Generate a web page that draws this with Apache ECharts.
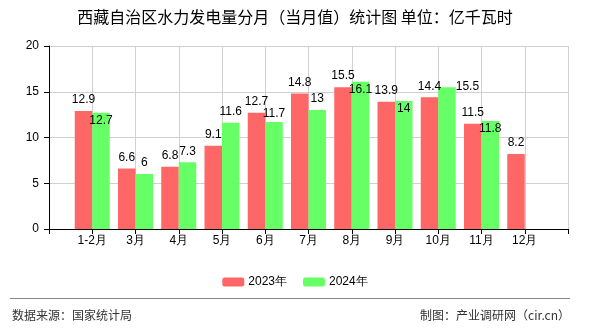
<!DOCTYPE html>
<html>
<head>
<meta charset="utf-8">
<script src="https://cdn.jsdelivr.net/npm/echarts@6/dist/echarts.min.js"></script>
<style>
html,body{margin:0;padding:0;background:#fff;}
#chart{width:590px;height:330px;}
</style>
</head>
<body>
<div id="chart"></div>
<script>
var categories = ['1-2月','3月','4月','5月','6月','7月','8月','9月','10月','11月','12月'];
var values2023 = [12.9, 6.6, 6.8, 9.1, 12.7, 14.8, 15.5, 13.9, 14.4, 11.5, 8.2];
var values2024 = [12.7, 6, 7.3, 11.6, 11.7, 13, 16.1, 14, 15.5, 11.8];
var seriesNames = ['2023年', '2024年'];
var yTicks = [0, 5, 10, 15, 20];

var LABEL_FONT = 'Liberation Sans, Arial, sans-serif';
var CJK_FONT = '"Noto Sans CJK SC", "Liberation Sans", sans-serif';

function pad(arr) {
  var out = ['-'];
  for (var i = 0; i < categories.length; i++) {
    out.push(i < arr.length ? arr[i] : '-');
  }
  out.push('-');
  return out;
}
var axisData = [''].concat(categories).concat(['']);

var redLabelRects = {};
function overlaps(a, b) {
  return a.x < b.x + b.width && b.x < a.x + a.width &&
         a.y < b.y + b.height && b.y < a.y + a.height;
}
function layout2023(p) {
  redLabelRects[p.dataIndex] = p.labelRect;
  return {};
}
function layout2024(p) {
  var lr = p.labelRect, r = p.rect, rr = redLabelRects[p.dataIndex];
  if (!rr || !overlaps(lr, rr)) return {};
  var shift = rr.y + rr.height - lr.y;
  if (lr.y + lr.height + shift <= r.y) {
    return { x: lr.x + lr.width / 2, y: lr.y + shift, align: 'center', verticalAlign: 'top' };
  }
  var inside = { x: lr.x, y: r.y + 2, width: lr.width, height: lr.height };
  if (!overlaps(inside, rr)) {
    return { x: r.x + r.width / 2, y: r.y + 2, align: 'center', verticalAlign: 'top' };
  }
  return { x: r.x + r.width, y: r.y, align: 'left', verticalAlign: 'middle' };
}

var chart = echarts.init(document.getElementById('chart'), null, { renderer: 'canvas' });
chart.setOption({
  animation: false,
  backgroundColor: '#fff',
  title: {
    text: '西藏自治区水力发电量分月（当月值）统计图 单位：亿千瓦时',
    left: 'center',
    top: 4,
    textStyle: { fontFamily: CJK_FONT, fontSize: 16, fontWeight: 'normal', color: '#000' }
  },
  legend: {
    data: seriesNames,
    left: 'center',
    top: 271,
    itemWidth: 22,
    itemHeight: 9,
    itemGap: 16,
    textStyle: { fontFamily: LABEL_FONT, fontSize: 12, color: '#000', padding: [0, 0, 0, -1] }
  },
  grid: { left: 49, right: 22, top: 46, bottom: 101 },
  xAxis: {
    type: 'category',
    data: axisData,
    boundaryGap: false,
    axisLine: { show: true, lineStyle: { color: '#000', width: 1 } },
    axisTick: { show: true, interval: 0, length: 5, lineStyle: { color: '#000' } },
    axisLabel: { interval: 0, margin: 6, color: '#000', fontFamily: LABEL_FONT, fontSize: 12 },
    splitLine: { show: true, interval: 0, lineStyle: { color: '#d0d0d0', width: 1 } }
  },
  yAxis: {
    type: 'value',
    min: yTicks[0],
    max: yTicks[yTicks.length - 1],
    interval: yTicks[1] - yTicks[0],
    axisLine: { show: true, lineStyle: { color: '#000', width: 1 } },
    axisTick: { show: true, length: 5, lineStyle: { color: '#000' } },
    axisLabel: { margin: 10, color: '#000', fontFamily: LABEL_FONT, fontSize: 12 },
    splitLine: { show: true, lineStyle: { color: '#d0d0d0', width: 1 } }
  },
  series: [
    {
      name: seriesNames[0],
      type: 'bar',
      data: pad(values2023),
      barWidth: 17.5,
      barGap: '0%',
      itemStyle: { color: '#ff6666' },
      label: { show: true, position: 'top', distance: 5, color: '#000', fontFamily: LABEL_FONT, fontSize: 12 },
      labelLayout: layout2023
    },
    {
      name: seriesNames[1],
      type: 'bar',
      data: pad(values2024),
      barWidth: 17.5,
      barGap: '0%',
      itemStyle: { color: '#66ff66' },
      label: { show: true, position: 'top', distance: 5, color: '#000', fontFamily: LABEL_FONT, fontSize: 12 },
      labelLayout: layout2024
    }
  ],
  graphic: [
    { type: 'line', shape: { x1: 10, y1: 298.5, x2: 570, y2: 298.5 }, style: { stroke: '#888', lineWidth: 1 } },
    { type: 'text', left: 12, top: 309, style: { text: '数据来源：国家统计局', fontFamily: CJK_FONT, fontSize: 12, fill: '#333' } },
    { type: 'text', right: 20, top: 309, style: { text: '制图：产业调研网（cir.cn）', fontFamily: CJK_FONT, fontSize: 12, fill: '#333' } }
  ]
});
</script>
</body>
</html>
